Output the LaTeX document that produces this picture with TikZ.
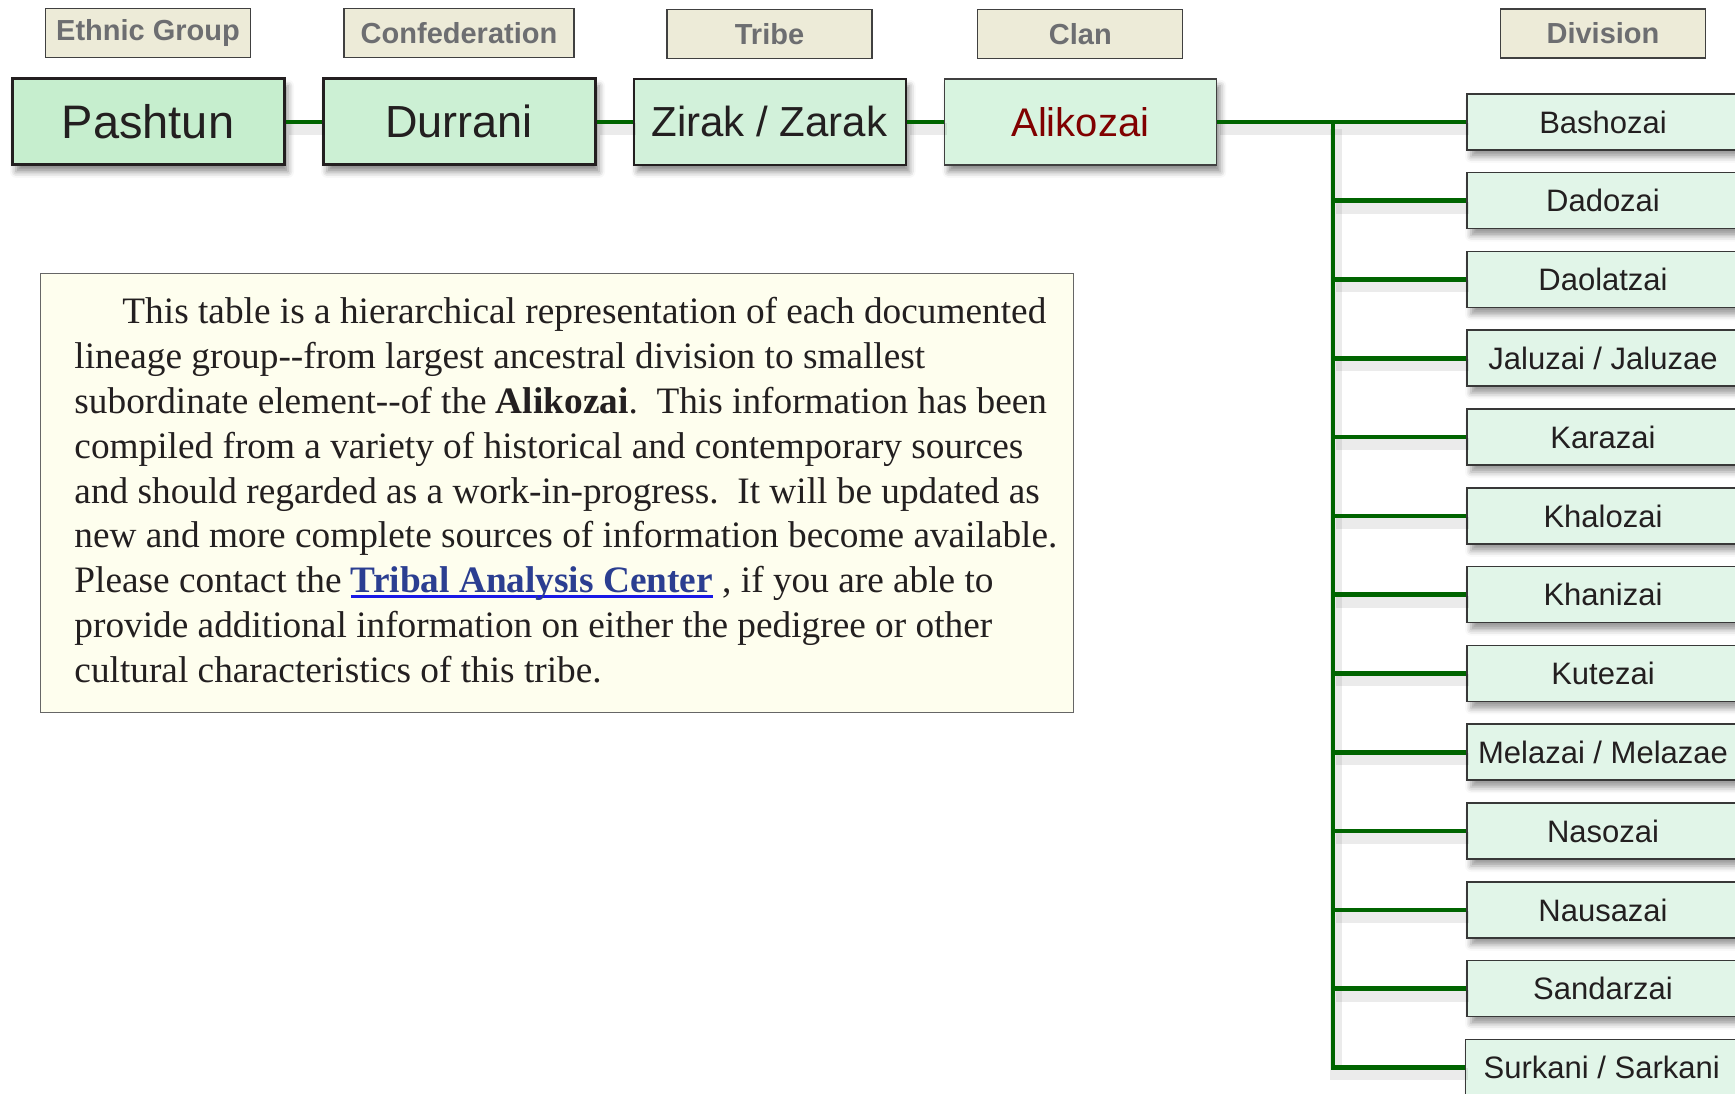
\documentclass[tikz,border=0pt]{standalone}
\usepackage{fontspec}
\setmainfont{Liberation Sans}
\newfontfamily\notefont{Liberation Serif}
\usepackage{tikz}
\usetikzlibrary{positioning}
\usetikzlibrary{shadows.blur}

\definecolor{linkgreen}{RGB}{0,100,0}
\definecolor{headfill}{RGB}{237,235,216}
\definecolor{headtext}{RGB}{109,110,113}
\definecolor{pashtunfill}{RGB}{198,238,206}
\definecolor{durranifill}{RGB}{204,240,212}
\definecolor{zirakfill}{RGB}{210,241,218}
\definecolor{alikozaifill}{RGB}{216,244,224}
\definecolor{divfill}{RGB}{225,245,232}
\definecolor{notefill}{RGB}{254,254,238}
\definecolor{inktext}{RGB}{35,31,32}
\definecolor{clanred}{RGB}{128,0,0}
\definecolor{tacblue}{RGB}{43,62,145}
\definecolor{tacline}{RGB}{25,25,230}

\newsavebox{\tacbox}
\newcommand{\tacunderline}[1]{\sbox{\tacbox}{#1}\rlap{\textcolor{tacline}{\rule[-5pt]{\wd\tacbox}{2.6pt}}}\usebox{\tacbox}}

\begin{document}
\begin{tikzpicture}[x=1pt, y=1pt,
                boxnode/.style={rectangle, draw=inktext, minimum width=272pt, minimum height=86pt, inner sep=0pt, text=inktext, blur shadow={shadow xshift=4pt, shadow yshift=-7pt, shadow blur radius=6pt, shadow opacity=45}},
                headnode/.style={rectangle, draw=black!75, line width=1.2pt, fill=headfill, minimum width=205pt, minimum height=49pt, inner sep=0pt, text=headtext, font=\fontsize{29}{34}\selectfont\bfseries},
                divnode/.style={rectangle, draw=black!78, line width=1.5pt, fill=divfill, minimum width=272pt, minimum height=56pt, inner sep=0pt, text height=22.5pt, text depth=0pt, text=inktext, font=\fontsize{31}{36}\selectfont, blur shadow={shadow xshift=4pt, shadow yshift=-7pt, shadow blur radius=6pt, shadow opacity=40}},
                notenode/.style={rectangle, draw=black!60, line width=1.3pt, fill=notefill, anchor=north west, text width=1023pt, inner xsep=5pt, inner ysep=0pt, text height=50.3pt, text depth=388.2pt, align=left, text=inktext, font=\notefont\fontsize{37.3}{44.8}\selectfont},
                linkline/.style={draw=linkgreen, line width=4.6pt, preaction={draw=black, opacity=0.08, line width=12pt, transform canvas={shift={(3pt,-7pt)}}}},
            ]
            \useasboundingbox (0,0) rectangle (1735,-1093);

            % Nodes
            \node[boxnode, fill=pashtunfill, line width=3pt, font=\fontsize{47}{52}\selectfont]       (pashtun)      at (148,-121.8)         {Pashtun};
            \node[boxnode, fill=durranifill, line width=3pt, font=\fontsize{45}{50}\selectfont]       (durrani)      [right=36pt of pashtun]        {Durrani};
            \node[boxnode, fill=zirakfill, line width=2pt, font=\fontsize{42}{47}\selectfont]         (zirak_zarak)  [right=36pt of durrani]        {Zirak / Zarak};
            \node[boxnode, fill=alikozaifill, line width=1.6pt, draw=black!75, text=clanred, font=\fontsize{40}{45}\selectfont]   (alikozai)     [right=37pt of zirak_zarak]    {Alikozai};

            \node[headnode]         (head_ethnic)    [above=19pt of pashtun]       {Ethnic Group};
            \node[headnode, minimum width=230pt]    (head_confed)    [above=19pt of durrani]       {Confederation};
            \node[headnode]         (head_tribe)     [above=19pt of zirak_zarak]   {Tribe};
            \node[headnode]         (head_clan)      [above=19pt of alikozai]      {Clan};

            \node[divnode]          (div_bashozai)   at (1603,-121.8)                  {Bashozai};
            \node[divnode]          (div_dadozai)    [below=21.3pt of div_bashozai]    {Dadozai};
            \node[divnode]          (div_daolatzai)  [below=21.3pt of div_dadozai]     {Daolatzai};
            \node[divnode]          (div_jaluzai)    [below=21.3pt of div_daolatzai]   {Jaluzai / Jaluzae};
            \node[divnode]          (div_karazai)    [below=21.3pt of div_jaluzai]     {Karazai};
            \node[divnode]          (div_khalozai)   [below=21.3pt of div_karazai]     {Khalozai};
            \node[divnode]          (div_khanizai)   [below=21.3pt of div_khalozai]    {Khanizai};
            \node[divnode]          (div_kutezai)    [below=21.3pt of div_khanizai]    {Kutezai};
            \node[divnode]          (div_melazai)    [below=21.3pt of div_kutezai]     {Melazai / Melazae};
            \node[divnode]          (div_nasozai)    [below=21.3pt of div_melazai]     {Nasozai};
            \node[divnode]          (div_nausazai)   [below=21.3pt of div_nasozai]     {Nausazai};
            \node[divnode]          (div_sandarzai)  [below=21.3pt of div_nausazai]    {Sandarzai};
            \node[divnode, xshift=-1.3pt]   (div_surkani)    [below=21.3pt of div_sandarzai]   {Surkani / Sarkani};

            \node[headnode]         (head_division)  [above=34.5pt of div_bashozai]  {Division};

            \coordinate[right=116pt of alikozai.east]  (fork);

            \node[notenode]         (note)           at (40,-273)       {\leftskip=28.8pt \rightskip=0pt plus 1fil \spaceskip=0pt \xspaceskip=0pt \hyphenpenalty=10000 \parindent=0pt
                \hspace*{48pt}This table is a hierarchical representation of each documented\\
                lineage group--from largest ancestral division to smallest\\
                subordinate element--of the \textbf{Alikozai}.\ \ This information has been\\
                compiled from a variety of historical and contemporary sources\\
                and should regarded as a work-in-progress.\ \ It will be updated as\\
                new and more complete sources of information become available.\\
                Please contact the \tacunderline{\textcolor{tacblue}{\textbf{Tribal Analysis Center}}} , if you are able to\\
                provide additional information on either the pedigree or other\\
                cultural characteristics of this tribe.\par};

            %Lines
            \draw[linkline] (pashtun.east) -- (durrani.west);
            \draw[linkline] (durrani.east) -- (zirak_zarak.west);
            \draw[linkline] (zirak_zarak.east) -- (alikozai.west);
            \draw[linkline] (alikozai.east) -- (div_bashozai.west);

            \draw[linkline] (fork) |- (div_surkani.west);
            \draw[linkline] (fork |- div_dadozai.west) -- (div_dadozai.west);
            \draw[linkline] (fork |- div_daolatzai.west) -- (div_daolatzai.west);
            \draw[linkline] (fork |- div_jaluzai.west) -- (div_jaluzai.west);
            \draw[linkline] (fork |- div_karazai.west) -- (div_karazai.west);
            \draw[linkline] (fork |- div_khalozai.west) -- (div_khalozai.west);
            \draw[linkline] (fork |- div_khanizai.west) -- (div_khanizai.west);
            \draw[linkline] (fork |- div_kutezai.west) -- (div_kutezai.west);
            \draw[linkline] (fork |- div_melazai.west) -- (div_melazai.west);
            \draw[linkline] (fork |- div_nasozai.west) -- (div_nasozai.west);
            \draw[linkline] (fork |- div_nausazai.west) -- (div_nausazai.west);
            \draw[linkline] (fork |- div_sandarzai.west) -- (div_sandarzai.west);
        \end{tikzpicture}
\end{document}
